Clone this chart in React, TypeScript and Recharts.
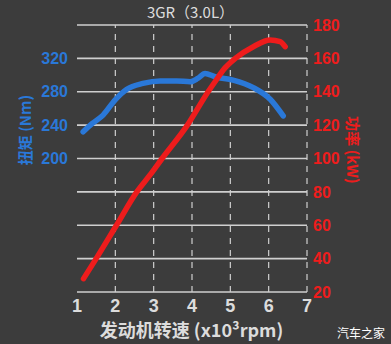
import React from 'react';
import { ComposedChart, Line, XAxis, YAxis, CartesianGrid, ReferenceLine } from 'recharts';

const torqueRpm = [1.16, 1.4, 1.68, 1.99, 2.3, 2.72, 3.17, 3.6, 3.95, 4.15, 4.34, 4.6, 5.07, 5.6, 6.04, 6.38];
const torqueNm = [232, 242, 252, 270, 283, 290, 293, 293, 292, 296, 302, 298, 294, 285, 271, 251];

const powerRpm = [1.17, 1.5, 2.03, 2.56, 2.9, 3.22, 3.88, 4.42, 4.6, 4.85, 5.13, 5.6, 6.04, 6.3, 6.43];
const powerKw = [28, 40, 60, 80, 90, 100, 120, 140, 146, 154, 160, 167, 171, 170, 167];

const xTicks = [1, 2, 3, 4, 5, 6, 7];
const xDashed = [2, 3, 4, 5, 6, 7];
const torqueTicks = [200, 240, 280, 320];
const powerTicks = [20, 40, 60, 80, 100, 120, 140, 160, 180];

const title = '3GR（3.0L）';
const xLabel = '发动机转速 (x10³rpm)';
const torqueLabel = '扭矩 (Nm)';
const powerLabel = '功率 (kW)';
const watermark = '汽车之家';

const torqueData = torqueRpm.map((x, i) => ({ x, v: torqueNm[i] }));
const powerData = powerRpm.map((x, i) => ({ x, v: powerKw[i] }));

const BLUE = '#2a78d8';
const RED = '#ee1c1c';
const GRID = '#cfcfcf';
const TEXT = '#dcdcdc';
const NUMFONT = '"Liberation Sans", Arial, sans-serif';
const CJK = '"Noto Sans CJK SC", sans-serif';

export default function App() {
  return (
    <div style={{ position: 'absolute', left: 0, top: 0, width: 391, height: 344, background: '#3c3c3c', overflow: 'hidden' }}>
      <ComposedChart width={391} height={344} margin={{ top: 25, right: 0, bottom: 0, left: 0 }}>
        <CartesianGrid yAxisId="right" vertical={false} stroke={GRID} strokeWidth={1.6} />
        <XAxis
          type="number"
          dataKey="x"
          domain={[1, 7]}
          ticks={xTicks}
          allowDataOverflow
          height={52}
          axisLine={false}
          tickLine={false}
          tickSize={0}
          tickMargin={7}
          tick={{ fill: TEXT, fontSize: 18, fontWeight: 'bold', fontFamily: NUMFONT }}
        />
        <YAxis
          yAxisId="left"
          orientation="left"
          domain={[40, 360]}
          ticks={torqueTicks}
          width={77}
          axisLine={false}
          tickLine={false}
          tickSize={0}
          tickMargin={9}
          tick={{ fill: BLUE, fontSize: 16, fontWeight: 'bold', fontFamily: NUMFONT }}
        />
        <YAxis
          yAxisId="right"
          orientation="right"
          domain={[20, 180]}
          ticks={powerTicks}
          width={84}
          axisLine={false}
          tickLine={false}
          tickSize={0}
          tickMargin={6}
          tick={{ fill: RED, fontSize: 16, fontWeight: 'bold', fontFamily: NUMFONT }}
        />
        {xDashed.map((x) => (
          <ReferenceLine key={x} x={x} yAxisId="right" stroke={GRID} strokeWidth={1.2} strokeDasharray="6 6" />
        ))}
        <Line
          yAxisId="left"
          data={torqueData}
          dataKey="v"
          type="monotone"
          stroke={BLUE}
          strokeWidth={5.5}
          strokeLinecap="round"
          dot={false}
          isAnimationActive={false}
        />
        <Line
          yAxisId="right"
          data={powerData}
          dataKey="v"
          type="monotone"
          stroke={RED}
          strokeWidth={5.5}
          strokeLinecap="round"
          dot={false}
          isAnimationActive={false}
        />
      </ComposedChart>
      <div style={{ position: 'absolute', left: 0, width: 381, top: 1, textAlign: 'center', color: TEXT, fontSize: 15, fontFamily: CJK }}>
        {title}
      </div>
      <div style={{ position: 'absolute', left: 0, width: 383, top: 317, textAlign: 'center', color: TEXT, fontSize: 18, fontWeight: 'bold', fontFamily: CJK, lineHeight: '24px' }}>
        {xLabel}
      </div>
      <div style={{ position: 'absolute', left: 24, top: 130, width: 0, height: 0 }}>
        <div style={{ position: 'absolute', transform: 'translate(-50%, -50%) rotate(-90deg)', whiteSpace: 'nowrap', color: BLUE, fontSize: 15, fontWeight: 'bold', fontFamily: CJK }}>
          {torqueLabel}
        </div>
      </div>
      <div style={{ position: 'absolute', left: 353, top: 150, width: 0, height: 0 }}>
        <div style={{ position: 'absolute', transform: 'translate(-50%, -50%) rotate(90deg)', whiteSpace: 'nowrap', color: RED, fontSize: 15, fontWeight: 'bold', fontFamily: CJK }}>
          {powerLabel}
        </div>
      </div>
      <div style={{ position: 'absolute', left: 337, top: 324, color: '#ffffff', fontSize: 12, fontFamily: CJK }}>
        {watermark}
      </div>
    </div>
  );
}
